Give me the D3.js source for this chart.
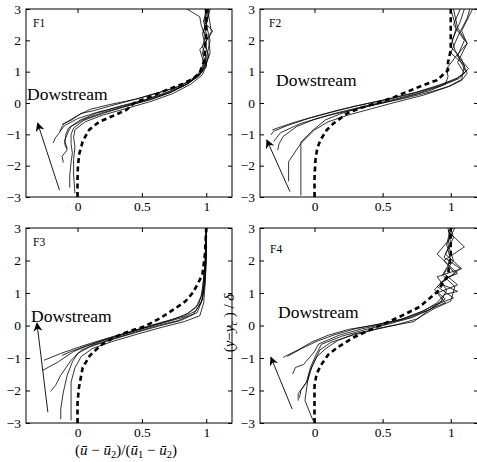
<!doctype html>
<html lang="en">
  <head>
    <title>Mixing layer mean velocity profiles</title>
    <style>
      body { margin: 0; background: #fff; }
      svg { display: block; }
      text { font-family: "Liberation Serif", "Times New Roman", serif; fill: #000; }
    </style>
  </head>
  <body>
    <div id="chart"></div>
    <script src="https://cdn.jsdelivr.net/npm/d3@7"></script>
    <script>
      // tick values shared by every panel
      const xTicks = [0, 0.5, 1]
      const yTicks = [-3, -2, -1, 0, 1, 2, 3]

      // each profile is a list of [u, y]
      const f1Profiles = [
        [[-0.19,-1.28],[-0.17,-1.1],[-0.14,-0.95],[-0.12,-0.75],[-0.1,-0.65],[0.0,-0.4],[0.1,-0.2],[0.25,-0.05],[0.45,0.12],[0.65,0.35],[0.8,0.55],[0.92,0.85],[0.99,1.2],[1.0,1.5],[0.97,1.8],[1.0,2.2],[0.98,2.6],[1.0,3]],
        [[-0.11,-1.9],[-0.12,-1.7],[-0.08,-1.5],[-0.1,-1.3],[-0.09,-1.0],[-0.07,-0.8],[0.02,-0.55],[0.15,-0.32],[0.33,-0.1],[0.52,0.1],[0.7,0.35],[0.85,0.6],[0.95,0.9],[1.0,1.25],[1.03,1.6],[1.02,2.0],[0.98,2.3],[1.0,2.7],[0.99,3]],
        [[-0.06,-2.7],[-0.06,-2.3],[-0.05,-1.9],[-0.04,-1.6],[-0.05,-1.3],[-0.05,-1.0],[-0.03,-0.8],[0.05,-0.55],[0.2,-0.33],[0.38,-0.1],[0.55,0.1],[0.72,0.33],[0.86,0.62],[0.95,0.95],[0.98,1.3],[0.95,1.7],[1.02,2.1],[1.05,2.3],[0.98,2.6],[1.02,3]],
        [[-0.02,-2.88],[-0.03,-2.3],[-0.03,-1.8],[-0.02,-1.4],[-0.03,-1.1],[-0.02,-0.85],[0.06,-0.6],[0.2,-0.38],[0.4,-0.15],[0.57,0.05],[0.74,0.3],[0.88,0.6],[0.97,0.9],[1.0,1.2],[0.97,1.6],[1.0,2.0],[0.96,2.5],[0.95,2.75],[0.85,3]],
        [[-0.12,-0.68],[-0.05,-0.55],[0.03,-0.33],[0.12,-0.25],[0.25,-0.1],[0.45,0.12],[0.6,0.3],[0.75,0.47],[0.88,0.7],[0.96,0.95],[1.0,1.15],[1.01,1.6],[1.03,2.0],[1.0,2.5],[1.03,3]],
        [[-0.14,-0.92],[-0.1,-0.72],[0.0,-0.5],[0.15,-0.3],[0.35,-0.1],[0.5,0.06],[0.68,0.3],[0.83,0.55],[0.94,0.85],[0.98,1.1],[1.02,1.5],[0.99,1.9],[1.04,2.28],[1.01,3]],
        [[-0.08,-1.45],[-0.1,-1.2],[-0.07,-0.9],[-0.05,-0.75],[0.05,-0.52],[0.2,-0.3],[0.4,-0.08],[0.58,0.12],[0.73,0.35],[0.87,0.65],[0.96,0.98],[0.99,1.3],[1.0,1.7],[0.97,2.22],[1.0,2.5],[1.02,3]]
      ]
      const f1Reference = [[0,-3],[0,-2.5],[0.003,-2],[0.015,-1.6],[0.04,-1.23],[0.07,-1.0],[0.09,-0.86],[0.13,-0.72],[0.17,-0.6],[0.26,-0.44],[0.38,-0.22],[0.44,0],[0.55,0.18],[0.67,0.38],[0.8,0.58],[0.9,0.78],[0.95,0.98],[0.98,1.3],[0.99,1.7],[1.0,2.2],[1.0,3]]
      const f1Arrow = [[-0.14,-2.78],[-0.31,-0.64]]

      const f2Profiles = [
        [[-0.32,-1.02],[-0.3,-0.9],[-0.2,-0.72],[-0.05,-0.5],[0.12,-0.3],[0.3,-0.1],[0.5,0.08],[0.7,0.28],[0.88,0.5],[1.02,0.72],[1.1,0.95],[1.05,1.3],[1.12,1.9],[1.08,2.3],[1.16,3]],
        [[-0.31,-0.86],[-0.26,-0.78],[-0.15,-0.62],[0.0,-0.43],[0.18,-0.22],[0.36,-0.04],[0.55,0.14],[0.75,0.35],[0.92,0.58],[1.05,0.8],[1.11,1.0],[1.03,1.7],[1.01,2.0],[1.07,2.6],[1.1,3]],
        [[-0.27,-1.5],[-0.26,-1.3],[-0.23,-1.07],[-0.13,-0.75],[0.0,-0.52],[0.15,-0.33],[0.35,-0.12],[0.55,0.08],[0.75,0.3],[0.93,0.55],[1.06,0.78],[1.13,1.1],[1.05,1.5],[1.1,2.0],[1.02,2.5],[1.07,3]],
        [[-0.19,-2.5],[-0.19,-2.2],[-0.19,-1.87],[-0.1,-1.29],[0.0,-0.86],[0.1,-0.6],[0.25,-0.38],[0.42,-0.18],[0.6,0.03],[0.8,0.25],[0.97,0.5],[1.08,0.75],[1.1,1.2],[1.0,1.6],[1.06,2.2],[1.12,2.7],[1.14,3]],
        [[-0.1,-2.95],[-0.1,-2.4],[-0.1,-1.8],[-0.1,-1.25],[-0.02,-0.9],[0.08,-0.54],[0.2,-0.33],[0.32,-0.17],[0.5,0.0],[0.66,0.15],[0.85,0.35],[1.0,0.55],[1.08,0.72],[1.12,0.95],[1.08,1.4],[1.0,1.8],[1.04,2.4],[1.0,3]],
        [[-0.3,-1.23],[-0.25,-0.95],[-0.1,-0.65],[0.1,-0.4],[0.3,-0.2],[0.5,0.0],[0.68,0.2],[0.85,0.4],[0.96,0.6],[0.98,0.84],[0.97,1.1],[1.04,1.5],[1.12,1.9],[1.05,2.4],[1.02,3]]
      ]
      const f2Reference = [[0,-3],[0,-2.4],[0.007,-1.82],[0.02,-1.45],[0.044,-1.18],[0.09,-0.86],[0.14,-0.65],[0.24,-0.33],[0.35,-0.14],[0.46,0],[0.58,0.18],[0.68,0.36],[0.8,0.57],[0.9,0.73],[0.98,1.05],[0.98,1.3],[1.0,1.69],[1.0,2.3],[1.0,3]]
      const f2Arrow = [[-0.18,-2.83],[-0.35,-1.18]]

      const f3Profiles = [
        [[-0.26,-1.07],[-0.13,-0.86],[0.0,-0.68],[0.1,-0.55],[0.25,-0.37],[0.4,-0.2],[0.55,-0.02],[0.7,0.15],[0.83,0.3],[0.92,0.55],[0.96,0.9],[0.98,1.4],[0.99,2],[1.0,3]],
        [[-0.27,-1.38],[-0.15,-1.12],[-0.03,-0.8],[0.08,-0.62],[0.25,-0.4],[0.42,-0.2],[0.58,0.0],[0.74,0.18],[0.86,0.38],[0.94,0.65],[0.97,1.0],[0.98,1.5],[1.0,2.2],[1.0,3]],
        [[-0.21,-2.03],[-0.17,-1.84],[-0.13,-1.53],[-0.05,-1.07],[0.03,-0.76],[0.12,-0.6],[0.28,-0.4],[0.45,-0.2],[0.62,0.0],[0.78,0.15],[0.9,0.35],[0.96,0.7],[0.98,1.1],[0.99,1.7],[1.0,3]],
        [[-0.13,-2.88],[-0.13,-2.57],[-0.11,-2.05],[-0.08,-1.53],[-0.04,-1.12],[0.0,-0.86],[0.1,-0.65],[0.27,-0.43],[0.45,-0.22],[0.63,-0.02],[0.8,0.15],[0.93,0.4],[0.97,0.8],[0.99,1.3],[1.0,2],[1.0,3]],
        [[-0.05,-2.92],[-0.05,-2.3],[-0.05,-1.74],[-0.02,-1.3],[0.03,-0.95],[0.12,-0.7],[0.28,-0.48],[0.47,-0.26],[0.66,-0.05],[0.83,0.12],[0.95,0.3],[0.98,0.7],[0.99,1.2],[1.0,2],[1.0,3]],
        [[-0.12,-0.92],[-0.05,-0.8],[0.05,-0.65],[0.2,-0.45],[0.35,-0.27],[0.52,-0.08],[0.68,0.1],[0.82,0.25],[0.92,0.45],[0.97,0.8],[0.99,1.5],[1.0,3]]
      ]
      const f3Reference = [[0,-3],[0,-2.4],[0.01,-1.94],[0.04,-1.3],[0.095,-0.93],[0.18,-0.61],[0.29,-0.35],[0.4,-0.18],[0.52,-0.03],[0.64,0.22],[0.75,0.5],[0.84,0.75],[0.9,1.03],[0.97,1.56],[0.99,2.2],[1.0,3]]
      const f3Arrow = [[-0.23,-2.67],[-0.315,0.07]]

      const f4Profiles = [
        [[-0.23,-0.98],[-0.12,-0.75],[-0.02,-0.51],[0.1,-0.3],[0.25,-0.12],[0.45,0.02],[0.62,0.17],[0.78,0.42],[0.88,0.62],[1.02,0.85],[0.9,1.2],[1.07,1.75],[0.95,2.1],[1.0,2.5],[0.98,3]],
        [[-0.2,-0.95],[-0.1,-0.72],[0.02,-0.48],[0.15,-0.28],[0.3,-0.1],[0.48,0.05],[0.65,0.2],[0.8,0.45],[0.9,0.7],[0.95,0.95],[1.05,1.05],[0.92,1.3],[1.03,1.6],[0.95,2.0],[1.1,2.42],[0.98,2.9],[1.02,3]],
        [[-0.16,-1.49],[-0.14,-1.29],[-0.08,-1.2],[0.0,-0.8],[0.03,-0.57],[0.18,-0.3],[0.35,-0.1],[0.52,0.05],[0.7,0.25],[0.85,0.5],[0.93,0.75],[0.97,1.1],[0.9,1.5],[1.08,1.75],[0.96,2.2],[1.02,2.7],[1.0,3]],
        [[-0.12,-2.31],[-0.12,-2.1],[-0.05,-1.7],[-0.03,-1.29],[0.015,-0.87],[0.05,-0.58],[0.2,-0.33],[0.38,-0.12],[0.55,0.05],[0.72,0.25],[0.86,0.52],[0.96,0.82],[0.88,1.1],[0.96,1.45],[1.05,1.6],[0.9,2.2],[0.98,2.6],[1.03,3]],
        [[-0.11,-2.22],[-0.1,-2.0],[-0.06,-1.75],[-0.04,-1.45],[0.0,-1.1],[0.04,-0.75],[0.12,-0.52],[0.28,-0.3],[0.45,-0.12],[0.6,0.02],[0.75,0.2],[0.87,0.5],[1.0,0.75],[1.03,1.2],[0.94,1.55],[1.0,2.0],[0.97,2.5],[1.0,3]],
        [[-0.01,-2.93],[-0.07,-2.31],[-0.05,-1.7],[-0.02,-1.29],[0.015,-0.97],[0.08,-0.72],[0.17,-0.46],[0.29,-0.26],[0.51,-0.05],[0.73,0.12],[0.85,0.51],[0.96,0.7],[0.9,1.0],[1.05,1.25],[0.95,1.6],[1.02,2.0],[0.98,2.5],[1.0,3]]
      ]
      const f4Reference = [[0,-3],[0,-2.4],[0,-1.86],[0.015,-1.5],[0.044,-1.24],[0.1,-0.9],[0.17,-0.67],[0.29,-0.36],[0.4,-0.15],[0.51,0.05],[0.64,0.3],[0.77,0.57],[0.9,1.03],[0.98,1.55],[1.0,2.2],[1.0,3]]
      const f4Arrow = [[-0.164,-2.57],[-0.32,-0.98]]

      const width = 477
      const height = 462

      // panel boxes in pixels, tag and note offsets from the panel corner
      const panels = [
        { name: 'F1', profiles: f1Profiles, reference: f1Reference, arrow: f1Arrow,
          left: 26, right: 232, top: 9, bottom: 197, tag: [7, 18], note: [1, 91] },
        { name: 'F2', profiles: f2Profiles, reference: f2Reference, arrow: f2Arrow,
          left: 260, right: 478, top: 9, bottom: 197, tag: [9, 18], note: [16, 77] },
        { name: 'F3', profiles: f3Profiles, reference: f3Reference, arrow: f3Arrow,
          left: 26, right: 232, top: 228, bottom: 423, tag: [7, 18], note: [5, 94] },
        { name: 'F4', profiles: f4Profiles, reference: f4Reference, arrow: f4Arrow,
          left: 260, right: 478, top: 228, bottom: 423, tag: [10, 25], note: [18, 90] }
      ]

      const svg = d3.select('#chart')
        .append('svg')
        .attr('width', width)
        .attr('height', height)

      svg.append('defs').append('marker')
        .attr('id', 'head')
        .attr('viewBox', '0 0 10 10')
        .attr('refX', 9)
        .attr('refY', 5)
        .attr('markerUnits', 'userSpaceOnUse')
        .attr('markerWidth', 10)
        .attr('markerHeight', 9)
        .attr('orient', 'auto')
        .append('path')
          .attr('d', 'M0,0 L10,5 L0,10 L3,5 Z')
          .attr('fill', '#000')

      const fmt = d => d3.format('')(d)

      panels.forEach((p, i) => {
        const x = d3.scaleLinear().domain([-0.4, 1.2]).range([p.left, p.right])
        const y = d3.scaleLinear().domain([-3, 3]).range([p.bottom, p.top])
        const line = d3.line().x(d => x(d[0])).y(d => y(d[1]))
        const g = svg.append('g')

        svg.select('defs').append('clipPath')
          .attr('id', 'clip' + i)
          .append('rect')
            .attr('x', p.left).attr('y', p.top)
            .attr('width', p.right - p.left).attr('height', p.bottom - p.top)

        const plot = g.append('g').attr('clip-path', `url(#clip${i})`)

        plot.selectAll('path.profile')
          .data(p.profiles)
          .enter()
          .append('path')
            .attr('class', 'profile')
            .attr('d', line)
            .attr('fill', 'none')
            .attr('stroke', '#000')
            .attr('stroke-width', 0.8)
            .attr('stroke-linejoin', 'round')

        plot.append('path')
          .datum(p.reference)
          .attr('d', line)
          .attr('fill', 'none')
          .attr('stroke', '#000')
          .attr('stroke-width', 2.6)
          .attr('stroke-dasharray', '5,3.5')

        g.append('line')
          .attr('x1', x(p.arrow[0][0])).attr('y1', y(p.arrow[0][1]))
          .attr('x2', x(p.arrow[1][0])).attr('y2', y(p.arrow[1][1]))
          .attr('stroke', '#000')
          .attr('stroke-width', 0.9)
          .attr('marker-end', 'url(#head)')

        // inward ticks on all four sides, labels on left and bottom
        const styleAxis = sel => {
          sel.attr('font-family', null).attr('font-size', null)
          sel.select('.domain').remove()
          sel.selectAll('line').attr('stroke', '#000')
          sel.selectAll('text')
            .style('font-family', '"Liberation Serif", "Times New Roman", serif')
            .style('font-size', '13.5px')
            .attr('fill', '#000')
        }
        g.append('g')
          .attr('transform', `translate(0,${p.bottom})`)
          .call(d3.axisBottom(x).tickValues(xTicks).tickSize(-4).tickPadding(4).tickFormat(fmt))
          .call(styleAxis)
        g.append('g')
          .attr('transform', `translate(0,${p.top})`)
          .call(d3.axisTop(x).tickValues(xTicks).tickSize(-4).tickFormat(''))
          .call(styleAxis)
        g.append('g')
          .attr('transform', `translate(${p.left},0)`)
          .call(d3.axisLeft(y).tickValues(yTicks).tickSize(-4).tickPadding(5).tickFormat(d3.format('d')))
          .call(styleAxis)
        g.append('g')
          .attr('transform', `translate(${p.right},0)`)
          .call(d3.axisRight(y).tickValues(yTicks).tickSize(-4).tickFormat(''))
          .call(styleAxis)

        g.append('rect')
          .attr('x', p.left).attr('y', p.top)
          .attr('width', p.right - p.left).attr('height', p.bottom - p.top)
          .attr('fill', 'none')
          .attr('stroke', '#000')
          .attr('stroke-width', 1)

        g.append('text')
          .attr('x', p.left + p.tag[0])
          .attr('y', p.top + p.tag[1])
          .style('font-size', '11.5px')
          .text(p.name)

        g.append('text')
          .attr('x', p.left + p.note[0])
          .attr('y', p.top + p.note[1])
          .style('font-size', '17.5px')
          .text('Dowstream')
      })

      // x label under F3
      const xl = svg.append('text')
        .attr('x', 126)
        .attr('y', 455)
        .attr('text-anchor', 'middle')
        .style('font-size', '15px')
      xl.append('tspan').text('(')
      xl.append('tspan').style('font-style', 'italic').text('ū')
      xl.append('tspan').text(' − ')
      xl.append('tspan').style('font-style', 'italic').text('ū')
      xl.append('tspan').attr('dy', 3).style('font-size', '10.5px').text('2')
      xl.append('tspan').attr('dy', -3).text(')/(')
      xl.append('tspan').style('font-style', 'italic').text('ū')
      xl.append('tspan').attr('dy', 3).style('font-size', '10.5px').text('1')
      xl.append('tspan').attr('dy', -3).text(' − ')
      xl.append('tspan').style('font-style', 'italic').text('ū')
      xl.append('tspan').attr('dy', 3).style('font-size', '10.5px').text('2')
      xl.append('tspan').attr('dy', -3).text(')')

      // y label between F3 and F4
      const yl = svg.append('text')
        .attr('transform', 'translate(234,323) rotate(-90)')
        .attr('text-anchor', 'middle')
        .style('font-size', '15px')
      yl.append('tspan').text('(')
      yl.append('tspan').style('font-style', 'italic').text('y')
      yl.append('tspan').text('−')
      yl.append('tspan').style('font-style', 'italic').text('y')
      yl.append('tspan').attr('dy', 3).style('font-size', '10px').style('font-style', 'italic').text('c')
      yl.append('tspan').attr('dy', -3).text(' ) / ')
      yl.append('tspan').style('font-style', 'italic').text('δ')
    </script>
  </body>
</html>
